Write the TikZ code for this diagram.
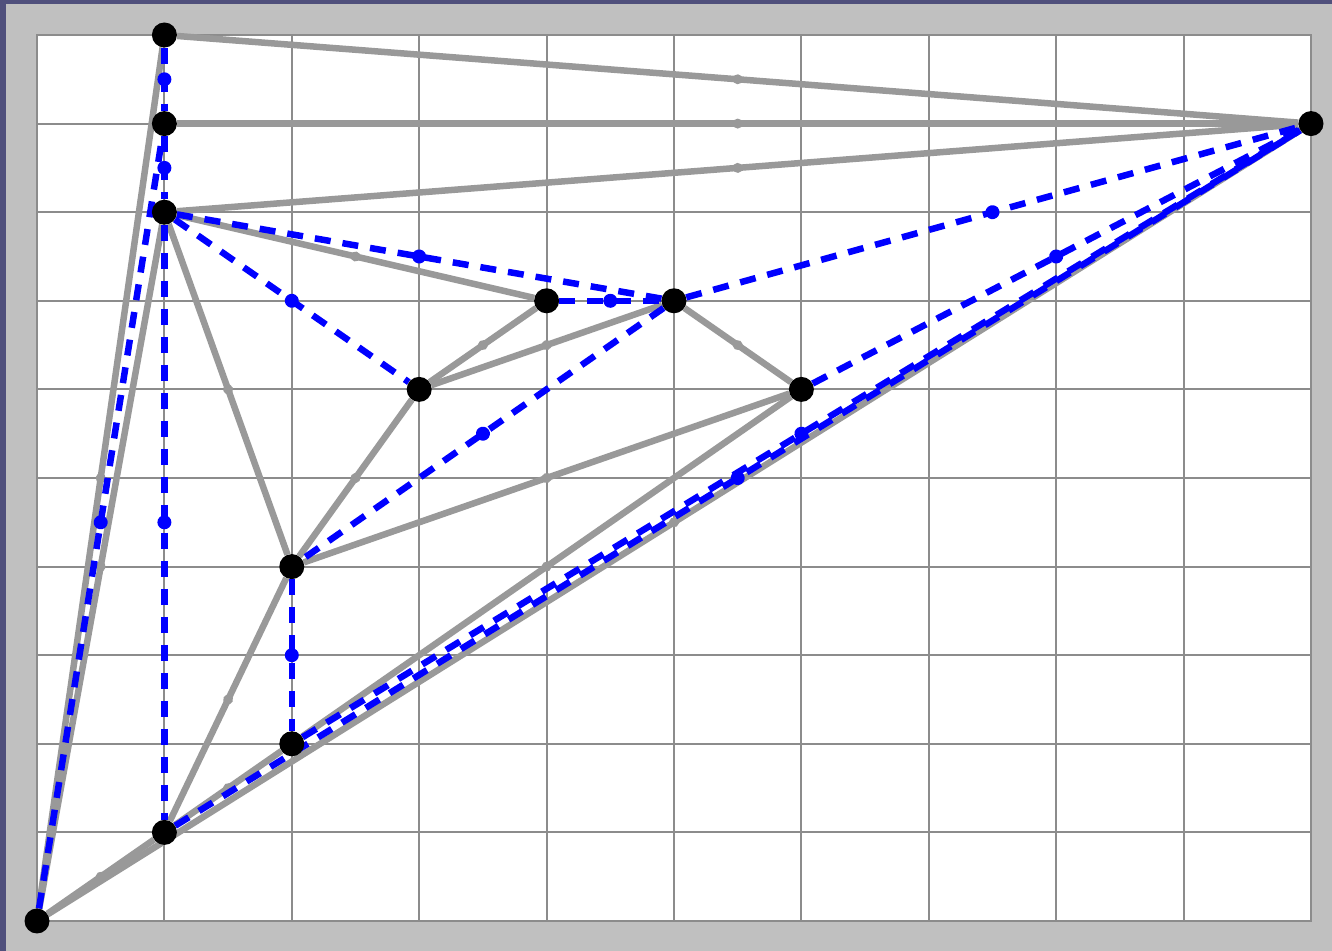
\documentclass[tikz,border=0pt]{standalone}
\usetikzlibrary{decorations.markings}
\definecolor{bgblue}{RGB}{80,80,124}
\definecolor{framegray}{RGB}{192,192,192}
\definecolor{gridgray}{RGB}{140,140,140}
\definecolor{edgegray}{RGB}{153,153,153}
\definecolor{dashblue}{RGB}{0,0,255}
\pgfdeclarelayer{bg}
\pgfdeclarelayer{edges}
\pgfsetlayers{bg,edges,main}
\begin{document}
\begin{tikzpicture}[
  vdot/.style={circle,fill=black,inner sep=0pt,minimum size=25bp},
  gedge/.style={draw=edgegray,line width=6.5bp,postaction={decorate},
    decoration={markings,mark=at position 0.5 with {\fill[edgegray] (0,0) circle (5bp);}}},
  bedge/.style={draw=dashblue,line width=6.5bp,dash pattern=on 16bp off 12bp,postaction={decorate},
    decoration={markings,mark=at position 0.5 with {\fill[dashblue] (0,0) circle (7bp);}}},
  gridline/.style={draw=gridgray,line width=2bp}
]
\useasboundingbox (0bp,0bp) rectangle (1332bp,951bp);
\begin{pgfonlayer}{bg}
  \fill[bgblue] (0bp,0bp) rectangle (1332bp,951bp);
  \fill[framegray] (6bp,0bp) rectangle (1332bp,947bp);
  \fill[white] (37bp,30bp) rectangle (1311bp,916bp);
\end{pgfonlayer}
\begin{scope}[shift={(37bp,30bp)},x=127.4bp,y=88.6bp]
  \begin{pgfonlayer}{bg}
    \foreach \k in {0,...,10} {
      \draw[gridline] (\k,0) -- (\k,10);
      \draw[gridline] (0,\k) -- (10,\k);
    }
    \draw[gridline,line width=2.6bp] (0,0) rectangle (10,10);
  \end{pgfonlayer}
  \node[vdot] (A) at (1,10) {};
  \node[vdot] (B) at (1,9) {};
  \node[vdot] (C) at (1,8) {};
  \node[vdot] (R) at (10,9) {};
  \node[vdot] (D) at (4,7) {};
  \node[vdot] (E) at (5,7) {};
  \node[vdot] (F) at (3,6) {};
  \node[vdot] (G) at (6,6) {};
  \node[vdot] (H) at (2,4) {};
  \node[vdot] (I) at (2,2) {};
  \node[vdot] (J) at (1,1) {};
  \node[vdot] (O) at (0,0) {};
\end{scope}
\begin{pgfonlayer}{edges}
  % gray solid edges
  \draw[gedge] (O) -- (A);
  \draw[gedge] (O) -- (C);
  \draw[gedge] (A) -- (R);
  \draw[gedge] (B) -- (R);
  \draw[gedge] (C) -- (R);
  \draw[gedge] (C) -- (D);
  \draw[gedge] (C) -- (H);
  \draw[gedge] (D) -- (F);
  \draw[gedge] (E) -- (F);
  \draw[gedge] (E) -- (G);
  \draw[gedge] (F) -- (H);
  \draw[gedge] (G) -- (H);
  \draw[gedge] (G) -- (I);
  \draw[gedge] (I) -- (J);
  \draw[gedge] (H) -- (J);
  \draw[gedge] (O) -- (J);
  \draw[gedge] (O) -- (R);
  % blue dashed edges
  \draw[bedge] (A) -- (B);
  \draw[bedge] (B) -- (C);
  \draw[bedge] (C) -- (J);
  \draw[bedge] (O) -- (B);
  \draw[bedge] (C) -- (E);
  \draw[bedge] (C) -- (F);
  \draw[bedge] (D) -- (E);
  \draw[bedge] (E) -- (R);
  \draw[bedge] (E) -- (H);
  \draw[bedge] (G) -- (R);
  \draw[bedge] (J) -- (R);
  \draw[bedge] (I) -- (R);
  \draw[bedge] (H) -- (I);
\end{pgfonlayer}
\end{tikzpicture}
\end{document}
